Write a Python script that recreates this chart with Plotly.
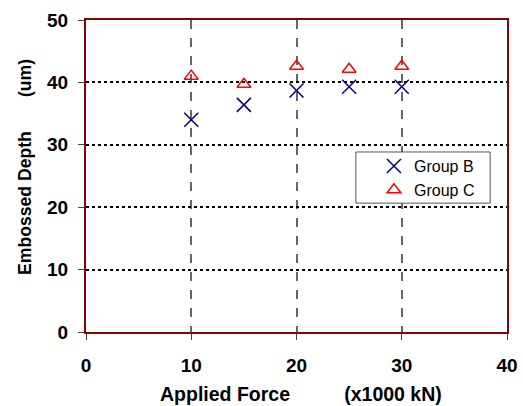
import plotly.graph_objects as go

force = [10, 15, 20, 25, 30]
group_b = [34.0, 36.4, 38.7, 39.3, 39.3]
group_c = [41.0, 39.7, 42.6, 42.1, 42.6]
x_ticks = [0, 10, 20, 30, 40]
y_ticks = [0, 10, 20, 30, 40, 50]

fig = go.Figure()
fig.add_trace(go.Scatter(x=force, y=group_b, mode="markers", name="Group B",
                         marker=dict(symbol="x-thin-open", size=14, color="#000080",
                                     line=dict(color="#000080", width=1.5))))
fig.add_trace(go.Scatter(x=force, y=group_c, mode="markers", name="Group C",
                         marker=dict(symbol="triangle-up-open", size=12, color="#FF0000",
                                     line=dict(color="#FF0000", width=1.5))))

font_family = "Liberation Sans, Arial, sans-serif"
sp = "\u00a0"
fig.update_layout(
    width=523, height=406,
    margin=dict(l=86, r=16, t=20, b=74),
    plot_bgcolor="white", paper_bgcolor="white",
    font=dict(family=font_family, color="black"),
    showlegend=True,
    legend=dict(x=0.684, y=0.5865, xanchor="left", yanchor="top",
                borderwidth=0, bgcolor="rgba(0,0,0,0)",
                font=dict(size=16, family=font_family), tracegroupgap=0,
                itemwidth=30),
    shapes=[dict(type="rect", xref="paper", yref="paper",
                 x0=0.641, x1=0.960, y0=0.413, y1=0.577,
                 line=dict(color="#555555", width=1), fillcolor="white",
                 layer="above")],
    xaxis=dict(range=[0, 40], tickvals=x_ticks, showgrid=True,
               gridcolor="#666666", griddash="dash", gridwidth=1.5,
               showline=True, mirror=True, linecolor="#8B0000", linewidth=2,
               ticks="outside", ticklen=6, tickcolor="#444444",
               ticklabelstandoff=9, automargin=False,
               tickfont=dict(size=19, family=font_family, weight="bold"),
               zeroline=False),
    yaxis=dict(range=[0, 50], tickvals=y_ticks, showgrid=True,
               gridcolor="black", griddash="dot", gridwidth=2,
               showline=True, mirror=True, linecolor="#8B0000", linewidth=2,
               ticks="outside", ticklen=6, tickcolor="#444444",
               ticklabelstandoff=6, automargin=False,
               tickfont=dict(size=19, family=font_family, weight="bold"),
               zeroline=False),
    annotations=[
        dict(text="Applied Force" + sp * 10 + "(x1000 kN)", xref="paper", yref="paper",
             x=0.511, y=-0.2, xanchor="center", yanchor="middle", showarrow=False,
             font=dict(size=19.5, family=font_family, weight="bold")),
        dict(text="Embossed Depth" + sp * 7 + "(um)", xref="paper", yref="paper",
             x=-0.145, y=0.529, xanchor="center", yanchor="middle", showarrow=False,
             textangle=-90,
             font=dict(size=17.6, family=font_family, weight="bold")),
    ],
)
fig.write_html("out.html", config={"displayModeBar": False},
               post_script="document.body.style.margin='0';")
